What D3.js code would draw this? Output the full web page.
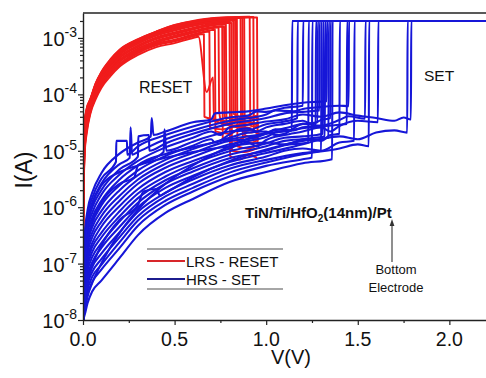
<!DOCTYPE html>
<html>
<head>
<meta charset="utf-8">
<script src="https://cdn.jsdelivr.net/npm/d3@7"></script>
<style>
  body { margin: 0; background: #fff; }
  svg { display: block; }
  text { font-family: "Liberation Sans", Arial, Helvetica, sans-serif; fill: #111; }
</style>
</head>
<body>
<svg id="chart" width="486" height="378"></svg>
<script>
// ---- axis settings ----
const voltageDomain = [0, 2.2];
const currentDomain = [1e-8, 2.77e-3];
const xMajorTicks = [0, 0.5, 1.0, 1.5, 2.0];
const xMinorTicks = [0.25, 0.75, 1.25, 1.75];
const yMajorTicks = [1e-8, 1e-7, 1e-6, 1e-5, 1e-4, 1e-3];
const yTickExponents = ["-8", "-7", "-6", "-5", "-4", "-3"];
const complianceCurrent = 2e-3;
const sweepEnd = 2.2;

// ---- LRS -> HRS (RESET) sweeps, [V, I] ----
const reset01 = [[0.0005,1.6e-7],[0.002,7.9e-7],[0.005,3.2e-6],[0.01,1.0e-5],[0.02,2.0e-5],[0.04,4.5e-5],[0.07,8.3e-5],[0.1,1.3e-4],[0.15,2.1e-4],[0.2,3.1e-4],[0.3,5.0e-4],[0.4,6.9e-4],[0.5,8.1e-4],[0.6,1.0e-3],[0.63,1.05e-3],[0.675,1.1e-4],[0.71,2.0e-4],[0.715,3.5e-5],[0.78,3.0e-5],[0.86,3.4e-5],[0.93,3.1e-5]];
const reset02 = [[0.0005,1.9e-7],[0.002,9.5e-7],[0.005,3.7e-6],[0.01,1.1e-5],[0.02,2.2e-5],[0.04,4.8e-5],[0.07,8.9e-5],[0.1,1.4e-4],[0.15,2.3e-4],[0.2,3.3e-4],[0.3,5.4e-4],[0.4,7.4e-4],[0.5,8.7e-4],[0.6,1.07e-3],[0.66,1.17e-3],[0.663,4.0e-5],[0.72,3.6e-5],[0.8,3.3e-5],[0.88,3.8e-5],[0.95,3.5e-5]];
const reset03 = [[0.0005,2.3e-7],[0.002,1.15e-6],[0.005,4.4e-6],[0.01,1.3e-5],[0.02,2.5e-5],[0.04,5.0e-5],[0.07,9.5e-5],[0.1,1.5e-4],[0.15,2.45e-4],[0.2,3.5e-4],[0.3,5.75e-4],[0.4,7.9e-4],[0.5,9.3e-4],[0.6,1.15e-3],[0.7,1.38e-3],[0.72,1.4e-3],[0.723,2.2e-5],[0.8,2.0e-5],[0.87,2.5e-5],[0.94,2.2e-5]];
const reset04 = [[0.0005,2.75e-7],[0.002,1.4e-6],[0.005,5.1e-6],[0.01,1.45e-5],[0.02,2.7e-5],[0.04,5.4e-5],[0.07,1.0e-4],[0.1,1.6e-4],[0.15,2.6e-4],[0.2,3.8e-4],[0.3,6.0e-4],[0.4,8.3e-4],[0.5,1.02e-3],[0.6,1.23e-3],[0.7,1.48e-3],[0.74,1.55e-3],[0.743,5.0e-5],[0.76,3.0e-5],[0.82,2.8e-5],[0.9,3.2e-5],[0.96,2.9e-5]];
const reset05 = [[0.0005,3.3e-7],[0.002,1.66e-6],[0.005,6.0e-6],[0.01,1.66e-5],[0.02,3.0e-5],[0.04,5.75e-5],[0.07,1.07e-4],[0.1,1.7e-4],[0.15,2.8e-4],[0.2,4.1e-4],[0.3,6.5e-4],[0.4,8.9e-4],[0.5,1.1e-3],[0.6,1.32e-3],[0.7,1.55e-3],[0.76,1.62e-3],[0.763,1.6e-5],[0.83,1.5e-5],[0.9,1.8e-5],[0.95,1.6e-5]];
const reset06 = [[0.0005,4.0e-7],[0.002,2.0e-6],[0.005,7.1e-6],[0.01,1.9e-5],[0.02,3.3e-5],[0.04,6.0e-5],[0.07,1.15e-4],[0.1,1.8e-4],[0.15,2.95e-4],[0.2,4.4e-4],[0.3,6.9e-4],[0.4,9.5e-4],[0.5,1.17e-3],[0.6,1.41e-3],[0.7,1.66e-3],[0.78,1.74e-3],[0.783,3.2e-5],[0.85,2.6e-5],[0.92,3.0e-5],[0.96,2.7e-5]];
const reset07 = [[0.0005,4.8e-7],[0.002,2.4e-6],[0.005,8.3e-6],[0.01,2.1e-5],[0.02,3.7e-5],[0.04,6.5e-5],[0.07,1.23e-4],[0.1,1.9e-4],[0.15,3.2e-4],[0.2,4.7e-4],[0.3,7.4e-4],[0.4,1.02e-3],[0.5,1.26e-3],[0.6,1.51e-3],[0.7,1.78e-3],[0.8,1.9e-3],[0.803,8.0e-6],[0.86,7.0e-6],[0.9,8.5e-6],[0.95,7.5e-6]];
const reset08 = [[0.0005,5.75e-7],[0.002,2.9e-6],[0.005,9.8e-6],[0.01,2.4e-5],[0.02,4.1e-5],[0.04,6.9e-5],[0.07,1.3e-4],[0.1,2.0e-4],[0.15,3.4e-4],[0.2,5.0e-4],[0.3,7.9e-4],[0.4,1.1e-3],[0.5,1.35e-3],[0.6,1.62e-3],[0.7,1.86e-3],[0.8,2.0e-3],[0.82,2.04e-3],[0.823,4.5e-5],[0.88,3.9e-5],[0.95,4.2e-5]];
const reset09 = [[0.0005,6.9e-7],[0.002,3.5e-6],[0.005,1.15e-5],[0.01,2.75e-5],[0.02,4.6e-5],[0.04,7.4e-5],[0.07,1.4e-4],[0.1,2.2e-4],[0.15,3.6e-4],[0.2,5.4e-4],[0.3,8.3e-4],[0.4,1.15e-3],[0.5,1.48e-3],[0.6,1.74e-3],[0.7,2.0e-3],[0.8,2.14e-3],[0.84,2.19e-3],[0.843,1.2e-5],[0.9,1.1e-5],[0.96,1.3e-5]];
const reset10 = [[0.0005,8.3e-7],[0.002,4.2e-6],[0.005,1.35e-5],[0.01,3.1e-5],[0.02,5.0e-5],[0.04,7.8e-5],[0.07,1.5e-4],[0.1,2.3e-4],[0.15,3.9e-4],[0.2,5.75e-4],[0.3,8.9e-4],[0.4,1.23e-3],[0.5,1.58e-3],[0.6,1.86e-3],[0.7,2.1e-3],[0.8,2.24e-3],[0.86,2.29e-3],[0.863,2.4e-5],[0.91,2.1e-5],[0.96,2.3e-5]];
const reset11 = [[0.0005,9.1e-7],[0.002,4.6e-6],[0.005,1.5e-5],[0.01,3.3e-5],[0.02,5.3e-5],[0.04,8.1e-5],[0.07,1.55e-4],[0.1,2.4e-4],[0.15,4.0e-4],[0.2,6.0e-4],[0.3,9.2e-4],[0.4,1.28e-3],[0.5,1.64e-3],[0.6,1.93e-3],[0.7,2.16e-3],[0.8,2.28e-3],[0.88,2.32e-3],[0.883,1.9e-5],[0.93,1.7e-5],[0.96,1.8e-5]];
const reset12 = [[0.0005,1.0e-6],[0.002,5.0e-6],[0.005,1.6e-5],[0.01,3.5e-5],[0.02,5.6e-5],[0.04,8.3e-5],[0.07,1.6e-4],[0.1,2.5e-4],[0.15,4.2e-4],[0.2,6.2e-4],[0.3,9.5e-4],[0.4,1.3e-3],[0.5,1.7e-3],[0.6,2.0e-3],[0.7,2.24e-3],[0.8,2.34e-3],[0.9,2.38e-3],[0.91,2.38e-3],[0.913,2.8e-5],[0.96,2.6e-5]];
const reset13 = [[0.0005,7.6e-7],[0.002,3.8e-6],[0.005,1.25e-5],[0.01,2.9e-5],[0.02,4.8e-5],[0.04,7.6e-5],[0.07,1.45e-4],[0.1,2.25e-4],[0.15,3.7e-4],[0.2,5.6e-4],[0.3,8.6e-4],[0.4,1.19e-3],[0.5,1.53e-3],[0.6,1.8e-3],[0.7,2.05e-3],[0.8,2.2e-3],[0.9,2.3e-3],[0.95,2.3e-3],[0.953,1.4e-5],[0.97,1.3e-5]];
const reset14 = [[0.0005,2.1e-7],[0.002,1.05e-6],[0.005,4.0e-6],[0.01,1.2e-5],[0.02,2.35e-5],[0.04,4.9e-5],[0.07,9.2e-5],[0.1,1.45e-4],[0.15,2.4e-4],[0.2,3.4e-4],[0.3,5.6e-4],[0.4,7.6e-4],[0.5,9.0e-4],[0.6,1.1e-3],[0.69,1.3e-3],[0.693,2.6e-5],[0.76,2.4e-5],[0.84,2.7e-5],[0.92,2.5e-5]];
const reset15 = [[0.0005,3.0e-7],[0.002,1.5e-6],[0.005,5.5e-6],[0.01,1.55e-5],[0.02,2.85e-5],[0.04,5.6e-5],[0.07,1.03e-4],[0.1,1.65e-4],[0.15,2.7e-4],[0.2,3.95e-4],[0.3,6.2e-4],[0.4,8.6e-4],[0.5,1.06e-3],[0.6,1.27e-3],[0.7,1.51e-3],[0.77,1.6e-3],[0.773,4.0e-5],[0.84,3.6e-5],[0.91,4.0e-5],[0.96,3.7e-5]];
const reset16 = [[0.0005,4.4e-7],[0.002,2.2e-6],[0.005,7.7e-6],[0.01,2.0e-5],[0.02,3.5e-5],[0.04,6.2e-5],[0.07,1.19e-4],[0.1,1.85e-4],[0.15,3.05e-4],[0.2,4.55e-4],[0.3,7.15e-4],[0.4,9.8e-4],[0.5,1.21e-3],[0.6,1.46e-3],[0.7,1.72e-3],[0.81,1.85e-3],[0.813,1.0e-5],[0.88,9.5e-6],[0.95,1.1e-5]];
const reset17 = [[0.0005,6.3e-7],[0.002,3.2e-6],[0.005,1.05e-5],[0.01,2.6e-5],[0.02,4.35e-5],[0.04,7.1e-5],[0.07,1.35e-4],[0.1,2.1e-4],[0.15,3.5e-4],[0.2,5.2e-4],[0.3,8.1e-4],[0.4,1.12e-3],[0.5,1.41e-3],[0.6,1.68e-3],[0.7,1.93e-3],[0.8,2.07e-3],[0.83,2.1e-3],[0.833,3.3e-5],[0.9,2.9e-5],[0.96,3.2e-5]];
const reset18 = [[0.0005,8.0e-7],[0.002,4.0e-6],[0.005,1.3e-5],[0.01,3.0e-5],[0.02,4.9e-5],[0.04,7.7e-5],[0.07,1.48e-4],[0.1,2.28e-4],[0.15,3.8e-4],[0.2,5.7e-4],[0.3,8.8e-4],[0.4,1.21e-3],[0.5,1.56e-3],[0.6,1.84e-3],[0.7,2.08e-3],[0.8,2.22e-3],[0.87,2.28e-3],[0.873,1.5e-5],[0.92,1.4e-5],[0.96,1.6e-5]];
const reset19 = [[0.0005,9.5e-7],[0.002,4.8e-6],[0.005,1.55e-5],[0.01,3.4e-5],[0.02,5.5e-5],[0.04,8.2e-5],[0.07,1.57e-4],[0.1,2.45e-4],[0.15,4.1e-4],[0.2,6.1e-4],[0.3,9.4e-4],[0.4,1.29e-3],[0.5,1.68e-3],[0.6,1.97e-3],[0.7,2.2e-3],[0.8,2.32e-3],[0.9,2.36e-3],[0.93,2.36e-3],[0.933,2.2e-5],[0.965,2.0e-5]];

// ---- HRS (SET) sweeps up to the set voltage, [V, I] ----
const set01 = [[0.001,1e-8],[0.01,3.2e-7],[0.025,8.9e-7],[0.05,1.8e-6],[0.1,4.0e-6],[0.2,8.9e-6],[0.3,1.4e-5],[0.37,1.8e-5],[0.375,3.8e-5],[0.385,1.9e-5],[0.45,2.2e-5],[0.6,3.2e-5],[0.7,3.6e-5],[0.72,4.6e-5],[0.8,4.8e-5],[0.9,5.0e-5],[1.0,5.6e-5],[1.1,6.4e-5],[1.2,7.1e-5],[1.33,7.6e-5]];
const set02 = [[0.001,1e-8],[0.01,2.7e-7],[0.025,7.4e-7],[0.05,1.45e-6],[0.1,3.2e-6],[0.18,6.4e-6],[0.182,1.5e-5],[0.24,1.5e-5],[0.242,8.5e-6],[0.3,1.2e-5],[0.45,1.9e-5],[0.6,2.7e-5],[0.8,3.9e-5],[0.9,4.2e-5],[0.95,5.0e-5],[1.0,4.9e-5],[1.1,5.8e-5],[1.2,6.3e-5]];
const set03 = [[0.001,1e-8],[0.01,2.3e-7],[0.025,6.0e-7],[0.05,1.2e-6],[0.1,2.6e-6],[0.2,5.8e-6],[0.255,7.5e-6],[0.26,2.6e-5],[0.268,8.5e-6],[0.3,9.5e-6],[0.45,1.6e-5],[0.6,2.3e-5],[0.8,3.4e-5],[1.0,4.4e-5],[1.05,5.2e-5],[1.15,5.0e-5],[1.2,5.5e-5],[1.3,6.0e-5],[1.4,6.3e-5],[1.45,6.2e-5]];
const set04 = [[0.001,1e-8],[0.01,1.95e-7],[0.025,5.0e-7],[0.05,9.8e-7],[0.1,2.0e-6],[0.2,4.7e-6],[0.3,7.9e-6],[0.302,1.8e-5],[0.36,1.9e-5],[0.362,1.0e-5],[0.45,1.35e-5],[0.6,2.0e-5],[0.8,3.0e-5],[1.0,3.8e-5],[1.1,4.6e-5],[1.2,4.9e-5],[1.29,5.2e-5]];
const set05 = [[0.001,1e-8],[0.01,1.66e-7],[0.025,4.2e-7],[0.05,7.9e-7],[0.1,1.66e-6],[0.2,3.8e-6],[0.3,6.6e-6],[0.45,1.15e-5],[0.6,1.7e-5],[0.7,2.2e-5],[0.75,1.9e-5],[0.8,2.6e-5],[0.9,2.9e-5],[1.0,3.3e-5],[1.1,3.6e-5],[1.2,4.4e-5],[1.3,4.0e-5],[1.4,4.8e-5],[1.5,4.2e-5],[1.6,3.8e-5],[1.7,3.4e-5],[1.75,3.9e-5],[1.79,3.6e-5]];
const set06 = [[0.001,1e-8],[0.01,1.4e-7],[0.025,3.5e-7],[0.05,6.5e-7],[0.1,1.3e-6],[0.2,3.1e-6],[0.3,5.5e-6],[0.44,9.5e-6],[0.445,2.4e-5],[0.455,1.0e-5],[0.6,1.45e-5],[0.8,2.2e-5],[0.9,2.3e-5],[1.0,2.95e-5],[1.1,3.3e-5],[1.17,3.8e-5]];
const set07 = [[0.001,1e-8],[0.01,1.2e-7],[0.025,2.8e-7],[0.05,5.2e-7],[0.1,1.07e-6],[0.2,2.45e-6],[0.3,4.5e-6],[0.45,8.1e-6],[0.6,1.23e-5],[0.7,1.6e-5],[0.72,1.4e-5],[0.8,1.95e-5],[0.85,2.4e-5],[0.9,2.5e-5],[0.95,2.2e-5],[1.0,2.6e-5],[1.1,3.0e-5],[1.2,3.4e-5],[1.25,3.0e-5],[1.3,3.5e-5],[1.35,3.8e-5]];
const set08 = [[0.001,1e-8],[0.01,1.0e-7],[0.025,2.3e-7],[0.05,4.4e-7],[0.1,8.5e-7],[0.2,2.0e-6],[0.3,3.7e-6],[0.45,6.9e-6],[0.6,1.07e-5],[0.8,1.7e-5],[0.9,2.1e-5],[1.0,2.2e-5],[1.05,1.9e-5],[1.1,2.0e-5],[1.2,3.0e-5],[1.3,2.8e-5],[1.4,3.5e-5],[1.45,4.1e-5],[1.54,3.7e-5]];
const set09 = [[0.001,1e-8],[0.01,8.7e-8],[0.025,1.95e-7],[0.05,3.5e-7],[0.1,6.9e-7],[0.2,1.6e-6],[0.3,3.1e-6],[0.45,5.9e-6],[0.6,9.1e-6],[0.8,1.5e-5],[0.9,1.6e-5],[1.0,2.0e-5],[1.05,2.4e-5],[1.15,2.3e-5],[1.2,2.6e-5],[1.27,2.75e-5]];
const set10 = [[0.001,1e-8],[0.01,7.4e-8],[0.025,1.6e-7],[0.05,2.9e-7],[0.1,5.5e-7],[0.2,1.3e-6],[0.3,2.6e-6],[0.45,5.0e-6],[0.6,7.8e-6],[0.8,1.3e-5],[0.95,1.6e-5],[1.0,1.75e-5],[1.05,2.1e-5],[1.14,2.3e-5]];
const set11 = [[0.001,1e-8],[0.01,6.3e-8],[0.025,1.3e-7],[0.05,2.3e-7],[0.1,4.5e-7],[0.2,1.05e-6],[0.3,2.1e-6],[0.45,4.2e-6],[0.6,6.6e-6],[0.8,1.1e-5],[0.9,1.4e-5],[0.95,1.2e-5],[1.0,1.55e-5],[1.1,1.9e-5],[1.2,2.2e-5],[1.3,2.6e-5],[1.35,2.2e-5],[1.4,2.75e-5],[1.5,3.4e-5],[1.61,3.2e-5]];
const set12 = [[0.001,1e-8],[0.01,5.4e-8],[0.025,1.1e-7],[0.05,1.95e-7],[0.1,3.5e-7],[0.2,8.5e-7],[0.3,1.75e-6],[0.45,3.5e-6],[0.6,5.8e-6],[0.8,9.8e-6],[1.0,1.35e-5],[1.1,1.7e-5],[1.2,1.8e-5],[1.31,2.0e-5]];
const set13 = [[0.001,1e-8],[0.01,4.6e-8],[0.025,9.1e-8],[0.05,1.6e-7],[0.1,2.9e-7],[0.2,6.9e-7],[0.3,1.45e-6],[0.45,3.0e-6],[0.6,4.9e-6],[0.8,8.5e-6],[1.0,1.2e-5],[1.1,1.5e-5],[1.2,1.6e-5],[1.3,1.5e-5],[1.35,1.9e-5],[1.4,2.0e-5]];
const set14 = [[0.001,1e-8],[0.01,3.9e-8],[0.025,7.6e-8],[0.05,1.3e-7],[0.1,2.3e-7],[0.2,5.6e-7],[0.3,1.2e-6],[0.45,2.6e-6],[0.6,4.3e-6],[0.8,7.4e-6],[1.0,1.0e-5],[1.1,1.25e-5],[1.23,1.4e-5]];
const set15 = [[0.001,1e-8],[0.01,3.3e-8],[0.025,6.2e-8],[0.05,1.05e-7],[0.1,1.9e-7],[0.2,4.5e-7],[0.3,1.0e-6],[0.45,2.2e-6],[0.6,3.6e-6],[0.8,6.3e-6],[1.0,9.1e-6],[1.2,1.3e-5],[1.3,1.6e-5],[1.4,1.8e-5],[1.5,1.6e-5],[1.6,2.1e-5],[1.7,2.3e-5],[1.77,2.1e-5]];
const set16 = [[0.001,1e-8],[0.01,2.8e-8],[0.025,5.1e-8],[0.05,8.7e-8],[0.1,1.5e-7],[0.2,3.6e-7],[0.3,8.3e-7],[0.45,1.8e-6],[0.6,3.1e-6],[0.8,5.5e-6],[1.0,7.9e-6],[1.1,1.0e-5],[1.2,1.1e-5],[1.3,1.0e-5],[1.4,1.4e-5],[1.48,1.5e-5]];
const set17 = [[0.001,1e-8],[0.01,2.4e-8],[0.025,4.3e-8],[0.05,7.1e-8],[0.1,1.2e-7],[0.2,2.95e-7],[0.3,6.9e-7],[0.45,1.55e-6],[0.6,2.6e-6],[0.8,4.8e-6],[1.0,6.9e-6],[1.2,9.1e-6],[1.3,1.0e-5]];
const set18 = [[0.001,1e-8],[0.01,2.0e-8],[0.025,3.5e-8],[0.05,5.8e-8],[0.1,9.5e-8],[0.2,2.4e-7],[0.3,5.8e-7],[0.45,1.3e-6],[0.6,2.2e-6],[0.8,4.1e-6],[1.0,6.2e-6],[1.2,8.7e-6],[1.4,1.1e-5],[1.5,1.3e-5],[1.56,1.2e-5]];
const set19 = [[0.001,1e-8],[0.01,1.7e-8],[0.025,2.9e-8],[0.05,4.7e-8],[0.1,7.8e-8],[0.2,1.9e-7],[0.3,4.7e-7],[0.45,1.1e-6],[0.6,1.9e-6],[0.8,3.5e-6],[1.0,5.4e-6],[1.2,7.1e-6],[1.25,7.6e-6]];
const set20 = [[0.001,1e-8],[0.01,1.26e-8],[0.025,2.0e-8],[0.05,3.2e-8],[0.1,5.0e-8],[0.2,1.26e-7],[0.3,3.2e-7],[0.45,7.9e-7],[0.6,1.4e-6],[0.8,2.8e-6],[1.0,4.2e-6],[1.2,6.0e-6],[1.36,7.1e-6]];
const set21 = [[0.001,1e-8],[0.01,1.5e-7],[0.025,5.0e-7],[0.05,1.1e-6],[0.1,2.4e-6],[0.2,4.2e-6],[0.3,5.5e-6],[0.45,7.5e-6],[0.6,9.5e-6],[0.8,1.2e-5],[1.0,1.4e-5],[1.1,1.3e-5],[1.2,1.6e-5],[1.32,1.8e-5]];
const set22 = [[0.001,1e-8],[0.01,1.5e-8],[0.025,2.6e-8],[0.05,4.5e-8],[0.1,1.0e-7],[0.2,3.5e-7],[0.3,9.0e-7],[0.45,2.6e-6],[0.6,5.5e-6],[0.8,1.2e-5],[1.0,2.1e-5],[1.1,2.5e-5],[1.2,3.0e-5],[1.28,3.2e-5]];
const set23 = [[0.001,1e-8],[0.01,9.0e-8],[0.025,2.5e-7],[0.05,5.5e-7],[0.1,1.2e-6],[0.2,2.6e-6],[0.28,3.4e-6],[0.3,5.5e-6],[0.45,8.8e-6],[0.6,1.15e-5],[0.8,1.6e-5],[1.0,2.0e-5],[1.2,2.5e-5],[1.4,2.9e-5],[1.44,3.0e-5]];
const set24 = [[0.001,1e-8],[0.01,2.2e-8],[0.025,4.8e-8],[0.05,9.0e-8],[0.1,2.1e-7],[0.2,6.0e-7],[0.3,1.1e-6],[0.33,1.9e-6],[0.4,2.1e-6],[0.42,1.6e-6],[0.45,1.8e-6],[0.6,3.4e-6],[0.8,6.6e-6],[1.0,1.05e-5],[1.2,1.5e-5],[1.34,1.7e-5]];

const resetSweeps = [reset01, reset02, reset03, reset04, reset05, reset06, reset07, reset08, reset09, reset10, reset11, reset12, reset13, reset14, reset15, reset16, reset17, reset18, reset19];
const setSweeps = [set01, set02, set03, set04, set05, set06, set07, set08, set09, set10, set11, set12, set13, set14, set15, set16, set17, set18, set19, set20, set21, set22, set23, set24];

const legendLabels = ["LRS - RESET", "HRS - SET"];

// ---- drawing ----
const svg = d3.select("#chart");
const plot = { left: 83, right: 486, top: 13, bottom: 320 };
const redColor = "#f01c1c";
const blueColor = "#1616d8";

const x = d3.scaleLinear().domain(voltageDomain).range([plot.left, plot.right]);
const y = d3.scaleLog().domain(currentDomain).range([plot.bottom, plot.top]);

svg.append("defs").append("clipPath").attr("id", "plot-clip")
  .append("rect")
  .attr("x", plot.left).attr("y", plot.top)
  .attr("width", plot.right - plot.left).attr("height", plot.bottom - plot.top);

const line = d3.line()
  .x(d => x(d[0]))
  .y(d => y(d[1]))
  .curve(d3.curveMonotoneX);

const curves = svg.append("g").attr("clip-path", "url(#plot-clip)");

// RESET branches (LRS then drop to HRS)
curves.append("g").selectAll("path")
  .data(resetSweeps)
  .join("path")
  .attr("d", line)
  .attr("fill", "none")
  .attr("stroke", redColor)
  .attr("stroke-width", 1.9)
  .attr("stroke-linejoin", "round");

// SET branches: HRS up to the set voltage, then clamped at the current compliance
curves.append("g").selectAll("path")
  .data(setSweeps.map(s => {
    const vSet = s[s.length - 1][0];
    return s.concat([[vSet + 0.002, complianceCurrent], [sweepEnd, complianceCurrent]]);
  }))
  .join("path")
  .attr("d", line)
  .attr("fill", "none")
  .attr("stroke", blueColor)
  .attr("stroke-width", 2.1)
  .attr("stroke-linejoin", "round");

// ---- axes ----
const axisColor = "#222";

svg.append("g").attr("transform", `translate(0,${plot.bottom})`)
  .call(d3.axisBottom(x).tickValues(xMajorTicks).tickSize(5).tickSizeOuter(0).tickFormat(""));
svg.append("g").attr("transform", `translate(0,${plot.bottom})`)
  .call(d3.axisBottom(x).tickValues(xMinorTicks).tickSize(3).tickSizeOuter(0).tickFormat(""))
  .select(".domain").remove();

const yMinorTicks = [];
yMajorTicks.forEach(t => {
  for (let k = 2; k <= 9; k++) {
    const v = t * k;
    if (v <= currentDomain[1]) yMinorTicks.push(v);
  }
});
svg.append("g").attr("transform", `translate(${plot.left},0)`)
  .call(d3.axisLeft(y).tickValues(yMajorTicks).tickSize(5).tickSizeOuter(0).tickFormat(""));
svg.append("g").attr("transform", `translate(${plot.left},0)`)
  .call(d3.axisLeft(y).tickValues(yMinorTicks).tickSize(3).tickSizeOuter(0).tickFormat(""))
  .select(".domain").remove();

svg.selectAll(".domain").attr("stroke", axisColor).attr("stroke-width", 1.4);
svg.selectAll(".tick line").attr("stroke", axisColor).attr("stroke-width", 1.2);

// top frame line
svg.append("line")
  .attr("x1", plot.left).attr("x2", plot.right)
  .attr("y1", plot.top).attr("y2", plot.top)
  .attr("stroke", axisColor).attr("stroke-width", 1.4);

// x tick labels
svg.append("g").selectAll("text")
  .data(xMajorTicks)
  .join("text")
  .attr("x", d => x(d))
  .attr("y", 346)
  .attr("text-anchor", "middle")
  .attr("font-size", 19.5)
  .text(d => d3.format(".1f")(d));

// y tick labels as powers of ten
const yLabels = svg.append("g").selectAll("text")
  .data(yMajorTicks)
  .join("text")
  .attr("x", 77)
  .attr("y", d => y(d) + 8)
  .attr("text-anchor", "end");
yLabels.append("tspan").attr("font-size", 20).text("10");
yLabels.append("tspan").attr("font-size", 14).attr("dy", -9)
  .text((d, i) => yTickExponents[i]);

// axis titles
svg.append("text")
  .attr("x", 291).attr("y", 364)
  .attr("text-anchor", "middle")
  .attr("font-size", 20)
  .text("V(V)");
svg.append("text")
  .attr("transform", "translate(32,170) rotate(-90)")
  .attr("text-anchor", "middle")
  .attr("font-size", 23)
  .text("I(A)");

// annotations
svg.append("text").attr("x", 139).attr("y", 93).attr("font-size", 16).text("RESET");
svg.append("text").attr("x", 424).attr("y", 81).attr("font-size", 15.5).text("SET");

const stack = svg.append("text")
  .attr("x", 245).attr("y", 218)
  .attr("font-size", 15).attr("font-weight", "bold");
stack.append("tspan").text("TiN/Ti/HfO");
stack.append("tspan").attr("font-size", 10).attr("dy", 4).text("2");
stack.append("tspan").attr("dy", -4).text("(14nm)/Pt");

svg.append("line")
  .attr("x1", 392).attr("x2", 392).attr("y1", 262).attr("y2", 224)
  .attr("stroke", "#333").attr("stroke-width", 1.1);
svg.append("path")
  .attr("d", "M392,219 L389.6,226 L394.4,226 Z")
  .attr("fill", "#333");
svg.append("text").attr("x", 396).attr("y", 274).attr("text-anchor", "middle")
  .attr("font-size", 13).text("Bottom");
svg.append("text").attr("x", 396).attr("y", 292).attr("text-anchor", "middle")
  .attr("font-size", 13).text("Electrode");

// legend
const legend = svg.append("g");
legend.append("line").attr("x1", 147).attr("x2", 283).attr("y1", 249).attr("y2", 249)
  .attr("stroke", "#888").attr("stroke-width", 1.5);
legend.append("line").attr("x1", 147).attr("x2", 283).attr("y1", 289).attr("y2", 289)
  .attr("stroke", "#888").attr("stroke-width", 1.5);
const legendColors = ["#d8262a", "#1c1c8e"];
const legendRows = [261, 279];
legendLabels.forEach((label, i) => {
  legend.append("line")
    .attr("x1", 147).attr("x2", 185)
    .attr("y1", legendRows[i]).attr("y2", legendRows[i])
    .attr("stroke", legendColors[i]).attr("stroke-width", 2);
  legend.append("text")
    .attr("x", 186).attr("y", legendRows[i] + 5.5)
    .attr("font-size", 15)
    .text(label);
});
</script>
</body>
</html>
